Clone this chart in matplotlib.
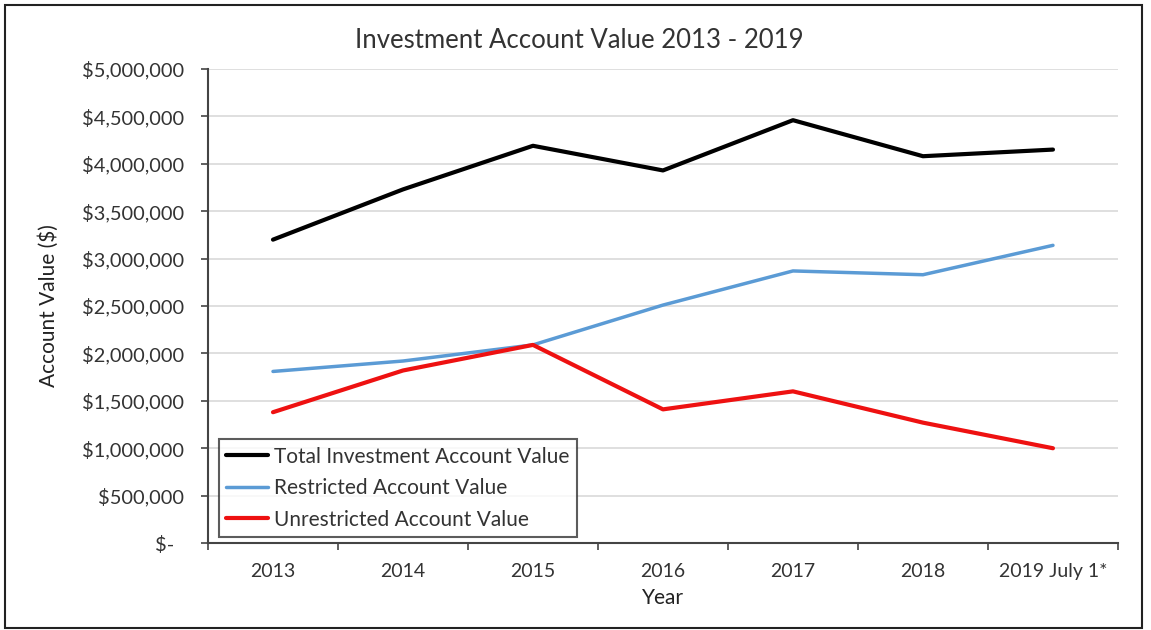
import matplotlib.pyplot as plt
from matplotlib.patches import Rectangle
from matplotlib.ticker import FuncFormatter, FixedLocator

plt.rcParams['font.family'] = ['Lato', 'DejaVu Sans']

years = ["2013", "2014", "2015", "2016", "2017", "2018", "2019 July 1*"]
total = [3200000, 3730000, 4190000, 3930000, 4460000, 4080000, 4150000]
restricted = [1810000, 1920000, 2090000, 2510000, 2870000, 2830000, 3140000]
unrestricted = [1380000, 1820000, 2090000, 1410000, 1600000, 1270000, 1000000]

fig = plt.figure(figsize=(11.51, 6.3), dpi=100)
ax = fig.add_axes([0.1807, 0.138, 0.7906, 0.7525])

x = range(len(years))
ax.plot(x, total, color='black', lw=3, label='Total Investment Account Value', solid_capstyle='round')
ax.plot(x, restricted, color='#5b9bd5', lw=2.5, label='Restricted Account Value', solid_capstyle='round')
ax.plot(x, unrestricted, color='#ee1111', lw=3, label='Unrestricted Account Value', solid_capstyle='round')

ax.set_xlim(-0.5, len(years) - 0.5)
ax.set_ylim(0, 5000000)
ax.set_yticks(range(0, 5000001, 500000))


def money(v, pos):
    # accounting style: zero shows as "$-"
    if v == 0:
        return '$-  '
    return '${:,.0f}'.format(v)


ax.yaxis.set_major_formatter(FuncFormatter(money))
ax.set_xticks(list(x))
ax.set_xticklabels(years)
ax.xaxis.set_minor_locator(FixedLocator([i - 0.5 for i in range(len(years) + 1)]))
ax.tick_params(axis='x', which='major', length=0, pad=14, labelsize=14, colors='#333333')
ax.tick_params(axis='x', which='minor', length=5, direction='out', width=1.2, color='#444444')
ax.tick_params(axis='y', length=5, direction='out', width=1.2, color='#444444', labelsize=14.4,
               labelcolor='#333333', pad=12)

ax.grid(axis='y', color='#d9d9d9', lw=1.2)
ax.set_axisbelow(True)
for s in ['top', 'right']:
    ax.spines[s].set_visible(False)
for s in ['left', 'bottom']:
    ax.spines[s].set_color('#444444')
    ax.spines[s].set_linewidth(1.5)

fig.text(0.503, 0.936, 'Investment Account Value 2013 - 2019', fontsize=18.5, color='#333333',
         ha='center', va='center')
ax.set_ylabel('Account Value ($)', fontsize=15, color='#222222', labelpad=17)
ax.set_xlabel('Year', fontsize=15, color='#222222', labelpad=6)

leg = ax.legend(loc='lower left', bbox_to_anchor=(0.012, 0.013), fontsize=15, frameon=True,
                fancybox=False, edgecolor='#333333', handlelength=2.0, handletextpad=0.3,
                borderpad=0.35, labelspacing=0.55, borderaxespad=0)
leg.get_frame().set_linewidth(1.5)
for t in leg.get_texts():
    t.set_color('#333333')

fig.patches.append(Rectangle((0.0045, 0.003), 0.988, 0.989, transform=fig.transFigure,
                             fill=False, edgecolor='#222222', lw=1.5))

fig.savefig('out.png', dpi=100)
